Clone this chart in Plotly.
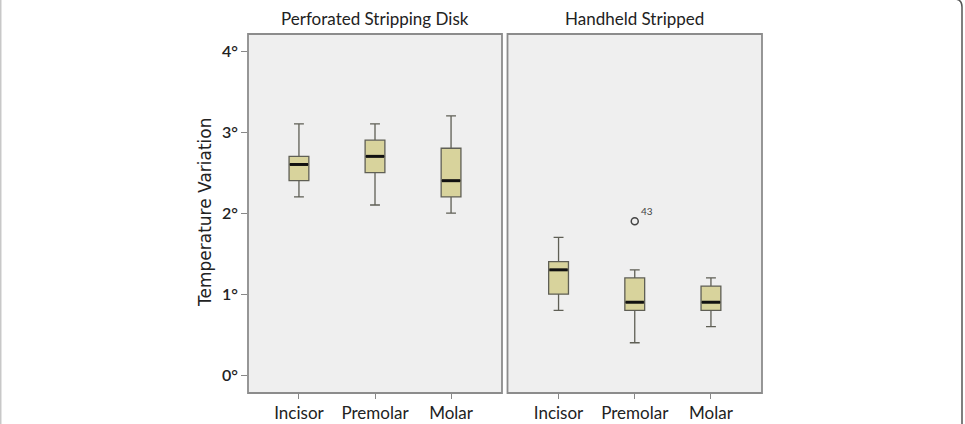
import plotly.graph_objects as go
from plotly.subplots import make_subplots

# ---- data ----
categories = ["Incisor", "Premolar", "Molar"]
panels = ["Perforated Stripping Disk", "Handheld Stripped"]

disk_low = [2.2, 2.1, 2.0]
disk_q1 = [2.4, 2.5, 2.2]
disk_med = [2.6, 2.7, 2.4]
disk_q3 = [2.7, 2.9, 2.8]
disk_high = [3.1, 3.1, 3.2]

hand_low = [0.8, 0.4, 0.6]
hand_q1 = [1.0, 0.8, 0.8]
hand_med = [1.3, 0.9, 0.9]
hand_q3 = [1.4, 1.2, 1.1]
hand_high = [1.7, 1.3, 1.2]

outlier_cat = ["Premolar"]
outlier_val = [1.9]
outlier_lbl = ["43"]

y_ticks = [0, 1, 2, 3, 4]
y_ticktext = ["0°", "1°", "2°", "3°", "4°"]

# ---- layout geometry ----
W, H = 965, 424
ML, MR, MT, MB = 248, 203, 34, 31
PW = W - ML - MR
PH = H - MT - MB

def px(xp):
    return (xp - ML) / PW

def py(yp):
    return (H - MB - yp) / PH

FONT = "Lato, 'Open Sans', sans-serif"
BOX_FILL = "#D8D39C"
BOX_LINE = "#5F5F55"
BORDER = "#8C8C8C"
PANEL_BG = "#EFEFEF"
BOXW = 0.26

fig = make_subplots(rows=1, cols=2, shared_yaxes=True, horizontal_spacing=0.0)

xs = list(range(len(categories)))
series = [
    (disk_low, disk_q1, disk_med, disk_q3, disk_high),
    (hand_low, hand_q1, hand_med, hand_q3, hand_high),
]
for col, (lo, q1, md, q3, hi) in enumerate(series, start=1):
    fig.add_trace(go.Box(
        x=xs, q1=q1, median=md, q3=q3, lowerfence=lo, upperfence=hi,
        width=BOXW, whiskerwidth=0.5,
        fillcolor=BOX_FILL, line=dict(color=BOX_LINE, width=1.3),
        boxpoints=False, showlegend=False, hoverinfo="skip"), row=1, col=col)
    for i, m in enumerate(md):
        fig.add_trace(go.Scatter(
            x=[xs[i] - BOXW / 2 + 0.01, xs[i] + BOXW / 2 - 0.01], y=[m, m],
            mode="lines", line=dict(color="#111111", width=3),
            showlegend=False, hoverinfo="skip"), row=1, col=col)

ox = [categories.index(c) for c in outlier_cat]
fig.add_trace(go.Scatter(
    x=ox, y=outlier_val, mode="markers",
    marker=dict(symbol="circle-open", size=7, color="#444444", line=dict(width=1.5)),
    showlegend=False, hoverinfo="skip"), row=1, col=2)
for xo, yo, lb in zip(ox, outlier_val, outlier_lbl):
    fig.add_annotation(x=xo, y=yo, xref="x2", yref="y", text=lb, showarrow=False,
                       xshift=12, yshift=10, font=dict(family=FONT, size=10, color="#444444"))

d1 = [0, px(502)]
d2 = [px(507.5), 1]
xcommon = dict(range=[-0.67, 2.67], tickvals=xs, ticktext=categories,
               ticks="outside", ticklen=5, tickcolor="#888888", tickwidth=1.3,
               showline=False, showgrid=False, zeroline=False, automargin=False,
               tickfont=dict(family=FONT, size=17, color="#222222"))
fig.update_xaxes(domain=d1, row=1, col=1, **xcommon)
fig.update_xaxes(domain=d2, row=1, col=2, **xcommon)
fig.update_yaxes(range=[-0.22, 4.21], tickvals=y_ticks, ticktext=y_ticktext,
                 ticks="outside", ticklen=6, tickcolor="#888888", tickwidth=1.3,
                 showgrid=False, zeroline=False, showline=False, automargin=False,
                 tickfont=dict(family=FONT, size=16, color="#222222", weight=600),
                 row=1, col=1)
fig.update_yaxes(range=[-0.22, 4.21], ticks="", showticklabels=False, automargin=False,
                 showgrid=False, zeroline=False, showline=False, row=1, col=2)

# panel backgrounds / frames
for xr in ["x domain", "x2 domain"]:
    fig.add_shape(type="rect", xref=xr, yref="y domain", x0=0, x1=1, y0=0, y1=1,
                  fillcolor=PANEL_BG, line=dict(color=BORDER, width=1.8), layer="below")

# panel titles
for name, d in zip(panels, [d1, d2]):
    fig.add_annotation(x=(d[0] + d[1]) / 2, y=py(18), xref="paper", yref="paper",
                       text=name, showarrow=False, xanchor="center", yanchor="middle",
                       font=dict(family=FONT, size=17, color="#222222"))

# y title
fig.add_annotation(x=px(205), y=py(212), xref="paper", yref="paper",
                   text="Temperature Variation", textangle=-90, showarrow=False,
                   xanchor="center", yanchor="middle",
                   font=dict(family="'DejaVu Sans', sans-serif", size=17, color="#222222"))

# outer frame of the figure image
fig.add_shape(type="path", xref="paper", yref="paper",
              path=f"M {px(954)},{py(-1)} Q {px(962)},{py(-1)} {px(962)},{py(7)} L {px(962)},{py(425)}",
              line=dict(color="#555555", width=1.5))
fig.add_shape(type="line", xref="paper", yref="paper",
              x0=px(0.8), x1=px(0.8), y0=py(-1), y1=py(425),
              line=dict(color="#BBBBBB", width=1.2))

fig.update_layout(width=W, height=H, margin=dict(l=ML, r=MR, t=MT, b=MB),
                  paper_bgcolor="white", plot_bgcolor="rgba(0,0,0,0)",
                  font=dict(family=FONT), showlegend=False)

fig.write_html("out.html")
